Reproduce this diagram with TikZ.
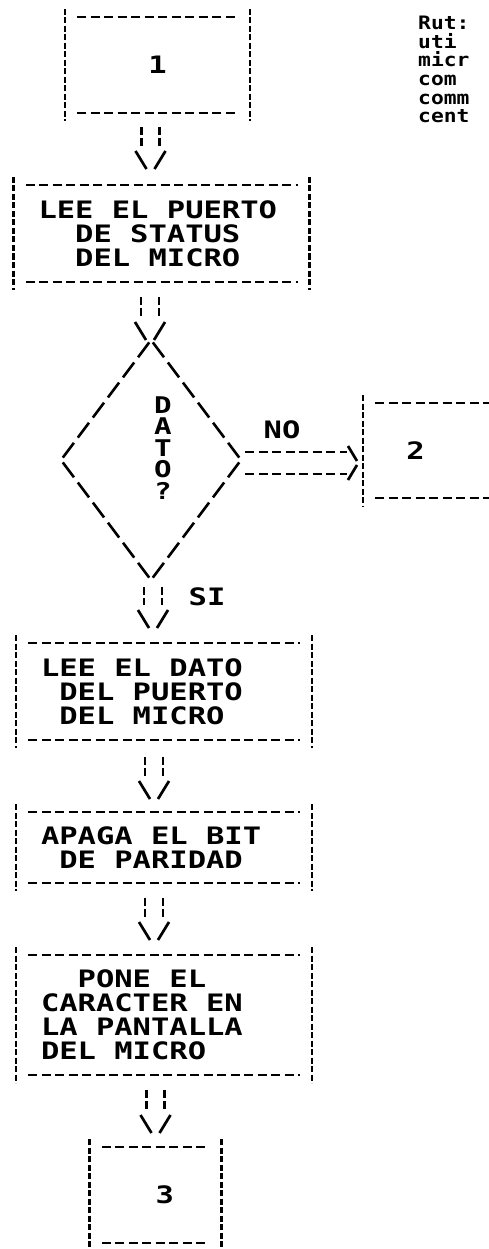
\documentclass[tikz,border=0pt]{standalone}
\usepackage{fontspec}
\newfontfamily\dotfont[FakeStretch=1.27]{DejaVu Sans Mono}
\newfontfamily\notefont[FakeStretch=1.15]{DejaVu Sans Mono}
\usetikzlibrary{positioning,shapes.geometric,calc}

\newcommand{\ttyfont}{\dotfont\bfseries\fontsize{24pt}{24pt}\selectfont}
\newcommand{\gap}{\hphantom{X}}

% double-line arrow: from, to, x offset of tip, gap below from, gap above to
\newcommand{\feed}[5]{%
  \coordinate (tip) at ([xshift=#3,yshift=#5]#2.north);
  \draw[stem] ($(tip |- #1.south)+(-9pt,-#4)$) -- ($(tip)+(-9pt,23pt)$);
  \draw[stem] ($(tip |- #1.south)+(9pt,-#4)$) -- ($(tip)+(9pt,23pt)$);
  \draw[barb] ($(tip)+(-15pt,18pt)$) -- ($(tip)+(-4pt,0pt)$);
  \draw[barb] ($(tip)+(15pt,18pt)$) -- ($(tip)+(4pt,0pt)$);
}

\begin{document}
\begin{tikzpicture}[x=1pt,y=-1pt,
  tty/.style={font=\ttyfont,inner sep=0pt,outer sep=0pt},
  hline/.style={draw,line width=2.2pt,dash pattern=on 9pt off 4.5pt},
  vline/.style={draw,line width=2.8pt,dash pattern=on 6pt off 2.5pt},
  stem/.style={line width=2.7pt,dash pattern=on 8pt off 3pt},
  barb/.style={line width=2.7pt},
  dline/.style={draw,line width=2.6pt,dash pattern=on 18.6pt off 6.5pt,shorten <=3pt,shorten >=3pt},
  ttybox/.style={tty,align=left,inner xsep=25pt,
    append after command={
      ([xshift=12pt]\tikzlastnode.north west) edge[hline] ([xshift=-12pt]\tikzlastnode.north east)
      ([xshift=12pt]\tikzlastnode.south west) edge[hline] ([xshift=-12pt]\tikzlastnode.south east)
      ([yshift=8pt]\tikzlastnode.north west) edge[vline] ([yshift=-8pt]\tikzlastnode.south west)
      ([yshift=8pt]\tikzlastnode.north east) edge[vline] ([yshift=-8pt]\tikzlastnode.south east)}},
  decision/.style={diamond,minimum width=180pt,minimum height=240pt,inner sep=0pt,outer sep=0pt,
    append after command={
      (\tikzlastnode.north) edge[dline] (\tikzlastnode.east)
      (\tikzlastnode.east) edge[dline] (\tikzlastnode.south)
      (\tikzlastnode.north) edge[dline] (\tikzlastnode.west)
      (\tikzlastnode.west) edge[dline] (\tikzlastnode.south)}},
  note/.style={font=\notefont\bfseries\fontsize{18.5pt}{18.6pt}\selectfont,align=left,inner sep=0pt}]
  \useasboundingbox (0,0) rectangle (489,1249);
  \clip (0,0) rectangle (489,1249);
  \node[ttybox,minimum width=185pt,minimum height=96pt] (one) at (157.5,65) {1};
  \node[note,anchor=north west] (nota) at (418,16) {Rut:\\uti\\micr\\com\\comm\\cent};
  \node[ttybox,text width=246pt,minimum height=97pt,below=72pt of one,xshift=4pt] (status) {LEE\gap EL\gap PUERTO\\\gap\gap DE\gap STATUS\\\gap\gap DEL\gap MICRO};
  \node[decision,below=58pt of status,xshift=-10.5pt] (dato) {};
  \node[tty,align=center,font=\dotfont\bfseries\fontsize{23pt}{21.5pt}\selectfont] (pregunta) at ([xshift=12pt,yshift=12pt]dato.center) {D\\A\\T\\O\\?};
  \node[ttybox,text width=150pt,minimum height=95pt,right=122pt of dato,yshift=9.5pt] (dos) {\gap 2};
  \node[tty] (no) at ([xshift=41pt,yshift=30pt]dato.east) {NO};
  \node[ttybox,text width=246pt,minimum height=97pt,below=63pt of dato,xshift=13pt] (leedato) {LEE\gap EL\gap DATO\\\gap DEL\gap PUERTO\\\gap DEL\gap MICRO};
  \node[tty] (si) at ([xshift=56pt,yshift=-17pt]dato.south) {SI};
  \node[ttybox,text width=246pt,minimum height=71pt,below=72pt of leedato] (paridad) {APAGA\gap EL\gap BIT\\\gap DE\gap PARIDAD};
  \node[ttybox,text width=246pt,minimum height=120pt,below=72pt of paridad] (pantalla) {\gap\gap PONE\gap EL\\CARACTER\gap EN\\LA\gap PANTALLA\\DEL\gap MICRO};
  \node[ttybox,minimum width=132pt,minimum height=96pt,below=72pt of pantalla,xshift=-8.5pt] (three) {\gap 3};
  \feed{one}{status}{-11pt}{14pt}{16pt}
  \feed{status}{dato}{-1pt}{15pt}{0pt}
  \feed{dato}{leedato}{-11pt}{7pt}{15pt}
  \feed{leedato}{paridad}{-10pt}{17pt}{13pt}
  \feed{paridad}{pantalla}{-10pt}{15pt}{15pt}
  \feed{pantalla}{three}{0pt}{15pt}{14pt}
  \draw[hline] ($(dato.east)+(4pt,8pt)$) -- ($(dato.east -| dos.west)+(-16pt,8pt)$);
  \draw[hline] ($(dato.east)+(4pt,-14pt)$) -- ($(dato.east -| dos.west)+(-16pt,-14pt)$);
  \draw[barb] ($(dato.east -| dos.west)+(-15pt,14pt)$) -- ($(dato.east -| dos.west)+(-6pt,-1pt)$);
  \draw[barb] ($(dato.east -| dos.west)+(-15pt,-20pt)$) -- ($(dato.east -| dos.west)+(-6pt,-5pt)$);
\end{tikzpicture}
\end{document}
